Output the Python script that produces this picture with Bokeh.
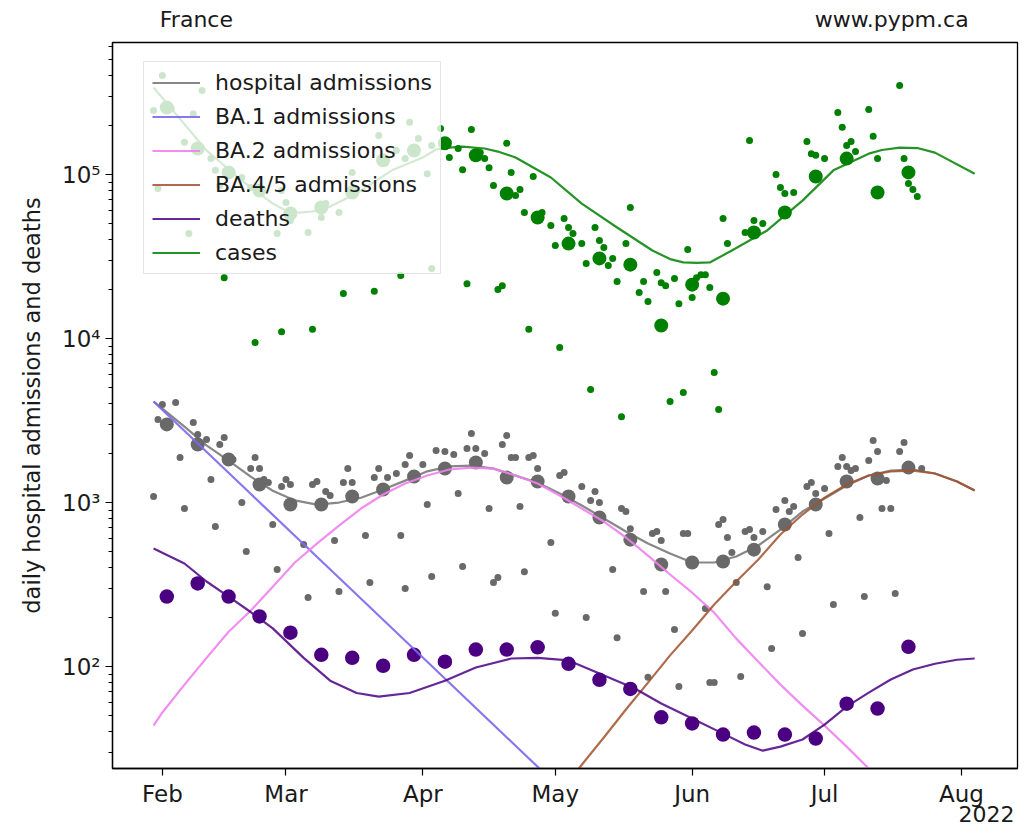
import numpy as np
import pandas as pd
from bokeh.plotting import figure
from bokeh.models import (Range1d, FixedTicker, DatetimeTickFormatter, Legend, LegendItem,
                          CustomJSTickFormatter, DatetimeAxis)
from bokeh.embed import file_html
from bokeh.resources import INLINE

# ---------------- data (days counted from 2022-02-01) ----------------
START = "2022-02-01"
month_ticks = ["2022-02-01", "2022-03-01", "2022-04-01", "2022-05-01",
               "2022-06-01", "2022-07-01", "2022-08-01"]
header_texts = ["France", "www.pypm.ca"]
year_text = "2022"

# weekly averages (large dots)
weekly_day = [1, 8, 15, 22, 29, 36, 43, 50, 57, 64, 71, 78, 85, 92, 99, 106, 113,
              120, 127, 134, 141, 148, 155, 162, 169]
hosp_weekly = [2994, 2259, 1828, 1288, 972, 972, 1088, 1200, 1441, 1611, 1754, 1420,
               1343, 1088, 811, 594, 419, 431, 437, 516, 735, 972, 1343, 1400, 1633]
deaths_weekly = [267, 321, 267, 202, 161, 118, 113, 101, 118, 107, 127, 127, 131, 104,
                 83, 73, 49, 45, 38.5, 39.6, 38.5, 36.4, 59.4, 55.4, 132]
cases_weekly = [256000, 144000, 103000, 79800, 57800, 62900, 77600, 122000, 140000,
                155000, 131000, 76600, 54700, 37900, 30800, 28200, 12000, 21300, 17500,
                44300, 58600, 97200, 125000, 77600, 103000]

# daily hospital admissions (small dots)
hosp_daily_day = [-2, -1, 0, 3, 4, 5, 7, 8, 10, 11, 12, 13, 14, 16, 18, 19, 20, 21, 22, 23,
                  24, 25, 26, 27, 28, 29, 32, 33, 34, 35, 37, 38, 39, 40, 41, 42, 43, 46, 47,
                  48, 49, 51, 53, 54, 55, 55, 56, 59, 60, 61, 62, 64, 66, 67, 68, 69, 70, 71,
                  73, 74, 75, 76, 77, 78, 79, 80, 81, 82, 83, 84, 85, 88, 89, 90, 91, 95, 96,
                  97, 98, 99, 102, 103, 104, 105, 106, 109, 110, 111, 112, 113, 114, 116, 117,
                  118, 119, 123, 124, 125, 126, 127, 128, 129, 130, 131, 132, 133, 134, 136,
                  137, 138, 139, 141, 142, 143, 144, 145, 146, 147, 148, 150, 151, 152, 153,
                  154, 155, 156, 157, 158, 159, 160, 161, 162, 163, 164, 165, 166, 167, 168, 172]
hosp_daily = [1088, 3206, 3963, 4074, 1880, 919, 3074, 2600, 2421, 1381, 714, 2259, 2490, 1828,
              1000, 502, 1611, 1880, 1611, 1381, 1324, 735, 390, 1252, 1381, 1288, 555, 264,
              1288, 1343, 1167, 1104, 586, 287, 1324, 1611, 1324, 629, 325, 1420, 1611, 1420,
              1503, 629, 1706, 299, 1936, 1706, 972, 354, 2075, 2046, 1963, 1135, 407, 2134,
              2636, 2134, 1990, 919, 325, 349, 2259, 2563, 1880, 1880, 946, 379, 1880, 1936,
              1611, 570, 211, 1462, 1524, 1252, 199, 1028, 1167, 1000, 390, 150, 919, 881, 693,
              287, 86, 647, 666, 586, 287, 168, 75.5, 647, 647, 226, 80, 80, 735, 787, 612, 495,
              325, 87, 666, 684, 612, 666, 307, 129, 906, 1028, 881, 946, 462, 159, 1252, 1324,
              1135, 1216, 647, 239, 1660, 1880, 1660, 1567, 1611, 811, 267, 1803, 2388, 2046,
              919, 1362, 919, 279, 2046, 2323, 1611]

# daily cases (small dots)
cases_daily_day = [-2, -1, 0, 2, 5, 6, 7, 8, 9, 11, 12, 13, 14, 15, 18, 20, 21, 26, 27, 27,
                   28, 29, 33, 34, 36, 37, 40, 41, 43, 48, 49, 53, 54, 55, 56, 58, 60, 61, 61,
                   63, 65, 67, 68, 69, 70, 72, 73, 74, 75, 76, 77, 78, 79, 80, 81, 82, 83, 84,
                   86, 88, 89, 90, 91, 92, 93, 95, 96, 97, 98, 99, 100, 101, 102, 103, 104, 105,
                   106, 108, 109, 110, 112, 113, 114, 115, 116, 117, 118, 119, 120, 121, 122,
                   123, 124, 125, 126, 127, 128, 132, 133, 134, 136, 139, 140, 141, 143, 146,
                   147, 148, 150, 153, 154, 155, 156, 157, 160, 161, 162, 167, 168, 169, 170, 171]
cases_daily = [246000, 82200, 401000, 253000, 157000, 43700, 235000, 144000, 325000, 125000,
               106000, 85800, 23500, 98600, 95900, 83300, 9460, 43700, 79800, 11000, 67500,
               52500, 44300, 11400, 54700, 66500, 58600, 18800, 103000, 19400, 173000, 140000,
               24200, 125000, 208000, 166000, 101000, 150000, 26700, 191000, 127000, 144000,
               107000, 21600, 188000, 136000, 125000, 110000, 85800, 19900, 21000, 155000,
               103000, 74500, 81000, 58600, 11400, 97200, 58600, 48900, 36900, 8820, 53900,
               47500, 43700, 37900, 28700, 4890, 47500, 39600, 35900, 27900, 30800, 22300, 3340,
               37900, 62900, 19100, 22300, 16800, 25300, 21900, 21000, 4130, 23200, 16300, 4690,
               34900, 17800, 23500, 24500, 24500, 20500, 6200, 3690, 53900, 37900, 44300,
               161000, 52500, 50300, 100000, 83300, 76600, 77600, 159000, 134000, 131000,
               125000, 239000, 194000, 150000, 159000, 138000, 249000, 171000, 125000, 349000,
               125000, 88200, 81000, 73500]

# model curves
hosp_fit_day = [-2, 0, 5, 10, 15, 20, 25, 30, 35, 40, 45, 50, 55, 60, 65, 70, 75, 80, 85, 90,
                95, 100, 105, 110, 115, 120, 125, 130, 135, 140, 145, 150, 155, 160, 165, 170,
                175, 180, 184]
hosp_fit = [4130, 3740, 2900, 2230, 1800, 1440, 1180, 1030, 972, 1000, 1070, 1200, 1360, 1550,
            1660, 1680, 1610, 1460, 1320, 1135, 960, 800, 666, 562, 489, 431, 431, 469, 547,
            684, 881, 1058, 1270, 1462, 1567, 1590, 1503, 1343, 1183]
ba1_day = [-2, 20, 40, 60, 80, 100]
ba1_fit = [4130, 1130, 348, 107, 32.9, 10.1]
ba2_day = [-2, 0, 5, 10, 15, 20, 25, 30, 35, 40, 45, 50, 55, 60, 65, 70, 75, 80, 85, 90, 95,
           100, 105, 110, 115, 120, 125, 130, 135, 140, 145, 150, 155, 160, 165]
ba2_fit = [43.6, 52.5, 77.6, 113, 163, 219, 307, 431, 562, 724, 919, 1119, 1306, 1462, 1590,
           1633, 1611, 1462, 1306, 1104, 919, 766, 612, 475, 364, 282, 213, 148, 107, 77.6,
           57.8, 43.6, 32.5, 23.9, 17.5]
ba45_day = [90, 95, 100, 105, 110, 115, 120, 125, 130, 135, 140, 145, 150, 155, 160, 165, 170,
            175, 180, 184]
ba45_fit = [17, 25.2, 36.9, 54.7, 79.8, 117, 166, 239, 330, 449, 638, 845, 1072, 1288, 1462,
            1546, 1567, 1503, 1343, 1183]
deaths_fit_day = [-2, 5, 10, 15, 20, 25, 32, 38, 44, 49, 56, 64, 71, 79, 85, 92, 99, 107, 113,
                  120, 127, 132, 136, 140, 145, 150, 155, 160, 165, 170, 175, 180, 184]
deaths_fit = [525, 425, 330, 267, 215, 171, 113, 82, 69, 65.6, 69, 82, 98.6, 112, 113, 109,
              90.6, 73.5, 59.5, 48.2, 39.0, 33.5, 30.7, 32.5, 35.9, 44.3, 57.0, 69.3, 83.4,
              95.9, 104, 110, 112]
cases_fit_day = [-2, 3, 10, 18, 25, 28, 31, 34, 37, 44, 52, 59, 62, 65, 68, 73, 76, 80, 88,
                 95, 103, 111, 115, 118, 121, 124, 129, 137, 145, 152, 160, 163, 167, 171, 175,
                 184]
cases_fit = [339000, 235000, 140000, 91900, 66500, 60200, 58600, 59500, 62100, 76600, 106000,
             127000, 142000, 146000, 148000, 144000, 138000, 127000, 95900, 66500, 47500, 34400,
             30500, 29100, 28900, 29100, 34400, 45600, 69300, 106000, 134000, 141000, 146000,
             145000, 136000, 101000]

# ---------------- helpers ----------------
base = pd.Timestamp(START)


def to_dates(days):
    return (base + pd.to_timedelta(np.asarray(days, dtype=float), unit="D")).to_numpy()


def to_ms(day):
    return (base + pd.Timedelta(days=day)).value / 1e6


FONT = "DejaVu Sans"
TXT = "#1a1a1a"
FS_TICK = "23px"
FS_HEAD = "22px"
FS_LEG = "22px"
FS_LAB = "22.5px"

p = figure(x_axis_type="datetime", y_axis_type="log",
           x_range=Range1d(base + pd.Timedelta(days=-11.3), base + pd.Timedelta(days=193.7)),
           y_range=Range1d(23.9, 638000),
           frame_width=905, frame_height=726,
           min_border_left=112, min_border_right=8, min_border_top=42, min_border_bottom=63,
           output_backend="svg", toolbar_location=None,
           background_fill_color="white", border_fill_color="white")
p.grid.visible = False
p.outline_line_color = "black"
p.outline_line_width = 1.3
p.outline_line_alpha = 1.0

for ax in (p.xaxis[0], p.yaxis[0]):
    ax.axis_line_color = "black"
    ax.axis_line_width = 1.3
    ax.major_tick_line_color = "black"
    ax.major_tick_line_width = 1.2
    ax.minor_tick_line_color = "black"
    ax.minor_tick_line_width = 1.0
    ax.major_tick_out = 7
    ax.major_tick_in = 0
    ax.minor_tick_out = 4
    ax.minor_tick_in = 0
    ax.major_label_text_font = FONT
    ax.major_label_text_font_size = FS_TICK
    ax.major_label_text_color = TXT

tick_ms = [pd.Timestamp(m).value / 1e6 for m in month_ticks]
p.xaxis.ticker = FixedTicker(ticks=tick_ms, minor_ticks=[])
p.xaxis.formatter = DatetimeTickFormatter(days="%b", months="%b", years="%b")
p.xaxis.major_label_standoff = 5
p.xaxis.minor_tick_line_color = None

minor = [m * 10 ** e for e in range(1, 6) for m in range(2, 10)]
p.yaxis.ticker = FixedTicker(ticks=[100, 1000, 10000, 100000], minor_ticks=minor)
p.yaxis.formatter = CustomJSTickFormatter(code="""
const e = Math.round(Math.log10(tick));
const sup = {1:'\u00b9', 2:'\u00b2', 3:'\u00b3', 4:'\u2074', 5:'\u2075', 6:'\u2076'};
return '10' + sup[e];
""")
p.yaxis.axis_label = "daily hospital admissions and deaths"
p.yaxis.axis_label_text_font = FONT
p.yaxis.axis_label_text_font_size = FS_LAB
p.yaxis.axis_label_text_font_style = "normal"
p.yaxis.axis_label_text_color = TXT
p.yaxis.axis_label_standoff = 14

# header texts (France / www.pypm.ca) and the "2022" year text as label-only axes
PICK = """
let best = 0;
for (let i = 0; i < pos.length; i++) {
  if (Math.abs(pos[i] - tick) < Math.abs(pos[best] - tick)) best = i;
}
return labels[best];
"""


def text_axis(positions_ms, labels, standoff, size):
    ax = DatetimeAxis(ticker=FixedTicker(ticks=positions_ms, minor_ticks=[]),
                      formatter=CustomJSTickFormatter(args=dict(pos=positions_ms, labels=labels),
                                                      code=PICK))
    ax.axis_line_color = None
    ax.major_tick_line_color = None
    ax.minor_tick_line_color = None
    ax.major_tick_out = 0
    ax.major_tick_in = 0
    ax.minor_tick_out = 0
    ax.minor_tick_in = 0
    ax.major_label_standoff = standoff
    ax.major_label_text_font = FONT
    ax.major_label_text_font_size = size
    ax.major_label_text_color = TXT
    return ax


head_pos = [to_ms(7.7), to_ms(165.2)]
p.add_layout(text_axis(head_pos, header_texts, 11, FS_HEAD), "above")
p.add_layout(text_axis([to_ms(186.7)], [year_text], -4, FS_HEAD), "below")

# ---------------- points ----------------
p.scatter(to_dates(hosp_daily_day), hosp_daily, size=7, fill_color="dimgrey", line_color=None)
p.scatter(to_dates(weekly_day), hosp_weekly, size=14, fill_color="dimgrey", line_color=None)
p.scatter(to_dates(cases_daily_day), cases_daily, size=7, fill_color="green", line_color=None)
p.scatter(to_dates(weekly_day), cases_weekly, size=14, fill_color="green", line_color=None)
p.scatter(to_dates(weekly_day), deaths_weekly, size=14.5, fill_color="indigo", line_color=None)

# ---------------- curves ----------------
LW = 2.2
kw = dict(line_width=LW, line_join="round")
r_h = p.line(to_dates(hosp_fit_day), hosp_fit, line_color="dimgrey", line_alpha=0.8, **kw)
r_b1 = p.line(to_dates(ba1_day), ba1_fit, line_color="mediumslateblue", line_alpha=0.9, **kw)
r_b2 = p.line(to_dates(ba2_day), ba2_fit, line_color="violet", line_alpha=0.9, **kw)
r_b45 = p.line(to_dates(ba45_day), ba45_fit, line_color="sienna", line_alpha=0.85, **kw)
r_d = p.line(to_dates(deaths_fit_day), deaths_fit, line_color="indigo", line_alpha=0.85, **kw)
r_c = p.line(to_dates(cases_fit_day), cases_fit, line_color="green", line_alpha=0.85, **kw)

legend = Legend(items=[
    LegendItem(label="hospital admissions", renderers=[r_h]),
    LegendItem(label="BA.1 admissions", renderers=[r_b1]),
    LegendItem(label="BA.2 admissions", renderers=[r_b2]),
    LegendItem(label="BA.4/5 admissions", renderers=[r_b45]),
    LegendItem(label="deaths", renderers=[r_d]),
    LegendItem(label="cases", renderers=[r_c]),
], location=(31, 494))
legend.glyph_width = 48
legend.glyph_height = 25
legend.label_height = 25
legend.label_standoff = 15
legend.spacing = 9
legend.padding = 8
legend.margin = 0
legend.label_text_font = FONT
legend.label_text_font_size = FS_LEG
legend.label_text_color = TXT
legend.border_line_color = "#cccccc"
legend.border_line_width = 1
legend.background_fill_color = "white"
legend.background_fill_alpha = 0.8
p.add_layout(legend)

open("out.html", "w").write(file_html(p, INLINE))
